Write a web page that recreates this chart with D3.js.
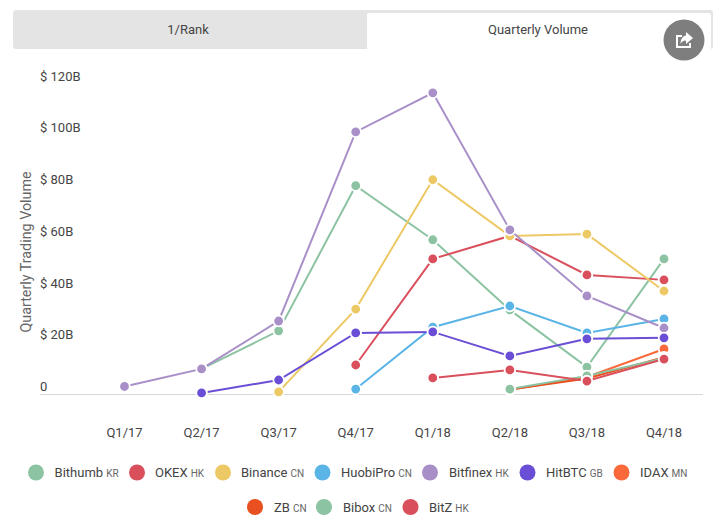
<!DOCTYPE html>
<html>
<head>
<meta charset="utf-8">
<script src="https://cdn.jsdelivr.net/npm/d3@7"></script>
<style>
    html, body { margin: 0; padding: 0; background: #fff; }
    svg { display: block; font-family: Roboto, sans-serif; }
</style>
</head>
<body>
<svg id="chart" width="718" height="527"></svg>
<script>
// === Data ===
const quarters = ["Q1/17", "Q2/17", "Q3/17", "Q4/17", "Q1/18", "Q2/18", "Q3/18", "Q4/18"];
const yTicks = [0, 20, 40, 60, 80, 100, 120];
const tabs = ["1/Rank", "Quarterly Volume"];

const names = ["Bithumb", "OKEX", "Binance", "HuobiPro", "Bitfinex", "HitBTC", "IDAX", "ZB", "Bibox", "BitZ"];
const countries = ["KR", "HK", "CN", "CN", "HK", "GB", "MN", "CN", "CN", "HK"];
const colors = ["#8cc3a2", "#d9505c", "#edc966", "#5ab4e6", "#a88fc8", "#6a4fd6", "#f9693a", "#e8501f", "#8cc3a2", "#d9505c"];

const bithumb = [null, 9.9, 24.6, 80.7, 59.8, 32.7, 10.6, 52.4];
const okex = [null, null, null, 11.4, 52.4, 61.3, 46.2, 44.3];
const binance = [null, null, 1, 33, 83, 61.3, 62, 40];
const huobi = [null, null, null, 2.1, 26, 34.2, 23.8, 29.2];
const bitfinex = [3.1, 9.9, 28.4, 101.5, 116.6, 63.6, 38.1, 25.7];
const hitbtc = [null, 0.6, 5.6, 23.8, 24.2, 14.9, 21.5, 21.9];
const idax = [null, null, null, null, null, 1.8, 6.8, 17.6];
const zb = [null, null, null, null, null, 1.9, 6.2, 14.4];
const bibox = [null, null, null, null, null, 2.1, 7.2, 14];
const bitz = [null, null, null, null, 6.4, 9.5, 5.2, 13.7];
const seriesValues = [bithumb, okex, binance, huobi, bitfinex, hitbtc, idax, zb, bibox, bitz];

// legend rows: indexes into names
const legendRows = [[0, 1, 2, 3, 4, 5, 6], [7, 8, 9]];

const svg = d3.select("#chart");

// === Tabs ===
svg.append("rect").attr("x", 13).attr("y", 10).attr("width", 700).attr("height", 39).attr("rx", 3).attr("fill", "#e4e4e4");
svg.append("rect").attr("x", 367).attr("y", 13).attr("width", 344).attr("height", 37).attr("rx", 2).attr("fill", "#fff");

svg.selectAll("text.tab")
    .data(tabs)
    .enter().append("text")
    .attr("class", "tab")
    .attr("x", (d, i) => i === 0 ? 188 : 538)
    .attr("y", 34)
    .attr("text-anchor", "middle")
    .attr("font-size", 13)
    .attr("fill", "#444")
    .text(d => d);

// === Share button ===
const share = svg.append("g").attr("transform", "translate(684,40)");
share.append("circle").attr("r", 20.5).attr("fill", "#7e7e7e");
share.append("path")
    .attr("d", "M-8,-5 H-2 V-3 H-6 V6 H5 V3 H7 V8 H-8 Z")
    .attr("fill", "#fff");
share.append("path")
    .attr("d", "M2,-8 L9,-2 L2,4 V0.5 C-1,0.5 -2.5,2 -3.5,4 C-3.5,-1 -1,-4 2,-4.5 Z")
    .attr("fill", "#fff");

// === Scales ===
const x = d3.scalePoint().domain(quarters).range([124.5, 664]);
const y = d3.scaleLinear().domain([0, 120]).range([394.5, 84]);

// === Axes ===
svg.append("line")
    .attr("x1", 40).attr("x2", 703)
    .attr("y1", y(0)).attr("y2", y(0))
    .attr("stroke", "#d8d8dc")
    .attr("stroke-width", 1);

svg.selectAll("text.ytick")
    .data(yTicks)
    .enter().append("text")
    .attr("class", "ytick")
    .attr("x", 40)
    .attr("y", d => y(d) - 3.5)
    .attr("font-size", 13)
    .attr("fill", "#444")
    .text(d => d === 0 ? "0" : "$ " + d + "B");

svg.selectAll("text.xtick")
    .data(quarters)
    .enter().append("text")
    .attr("class", "xtick")
    .attr("x", d => x(d))
    .attr("y", 437)
    .attr("text-anchor", "middle")
    .attr("font-size", 13)
    .attr("fill", "#444")
    .text(d => d);

svg.append("text")
    .attr("transform", "translate(31,252) rotate(-90)")
    .attr("text-anchor", "middle")
    .attr("font-size", 14.3)
    .attr("fill", "#666")
    .text("Quarterly Trading Volume");

// === Lines and dots ===
const line = d3.line()
    .defined(d => d !== null)
    .x((d, i) => x(quarters[i]))
    .y(d => y(d));

seriesValues.forEach((values, s) => {
    const g = svg.append("g");
    g.append("path")
        .attr("d", line(values))
        .attr("fill", "none")
        .attr("stroke", colors[s])
        .attr("stroke-width", 2);
    g.selectAll("circle")
        .data(values.map((v, i) => ({ v, q: quarters[i] })).filter(d => d.v !== null))
        .enter().append("circle")
        .attr("cx", d => x(d.q))
        .attr("cy", d => y(d.v))
        .attr("r", 5.3)
        .attr("fill", colors[s])
        .attr("stroke", "#fff")
        .attr("stroke-width", 1.8);
});

// === Legend ===
const legendDotX = [[36, 137, 223, 322.5, 430, 527.5, 621.5], [255, 324, 410.5]];
const legendLabelX = [[54.6, 155, 241, 341, 449, 546, 640], [274, 343, 429]];
const legendY = [472.5, 507];
legendRows.forEach((row, r) => {
    row.forEach((s, j) => {
        const g = svg.append("g");
        g.append("circle")
            .attr("cx", legendDotX[r][j])
            .attr("cy", legendY[r])
            .attr("r", 8)
            .attr("fill", colors[s]);
        const t = g.append("text")
            .attr("x", legendLabelX[r][j])
            .attr("y", legendY[r] + 4.5)
            .attr("font-size", 13)
            .attr("fill", "#444");
        t.append("tspan").text(names[s]);
        t.append("tspan").attr("dx", 3).attr("font-size", 10).attr("fill", "#666").text(countries[s]);
    });
});
</script>
</body>
</html>
